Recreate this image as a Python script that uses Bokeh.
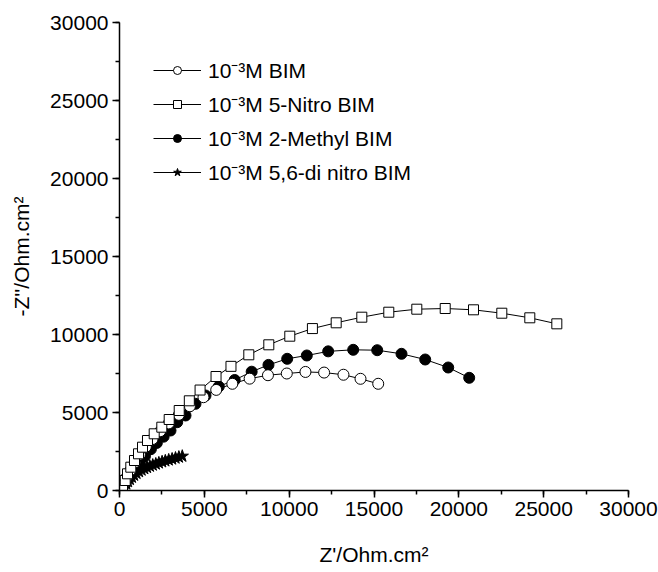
from bokeh.plotting import figure
from bokeh.models import Range1d, SingleIntervalTicker, Legend, LegendItem
from bokeh.embed import file_html
from bokeh.resources import INLINE

# ---- data ----
bim_x = [130, 250, 420, 650, 900, 1200, 1550, 1950, 2400, 2900, 3500, 4150, 4950,
         5700, 6650, 7670, 8750, 9860, 10960, 12060, 13200, 14205, 15248]
bim_y = [150, 450, 850, 1300, 1800, 2300, 2800, 3300, 3800, 4300, 4850, 5400, 5980,
         6450, 6840, 7170, 7390, 7500, 7600, 7560, 7420, 7160, 6840]

nitro_x = [177, 336, 472, 666, 884, 1120, 1356, 1650, 2045, 2493, 2929, 3519, 4115,
           4750, 5690, 6570, 7621, 8800, 10037, 11370, 12772, 14281, 15872, 17523,
           19197, 20865, 22533, 24183, 25775]
nitro_y = [320, 641, 1070, 1494, 1923, 2352, 2776, 3205, 3634, 4058, 4551, 5128, 5750,
           6440, 7307, 7958, 8698, 9339, 9891, 10380, 10750, 11109, 11429, 11622,
           11666, 11583, 11365, 11070, 10685]

methyl_x = [150, 350, 600, 900, 1200, 1500, 1850, 2200, 2600, 3006, 3400, 3890, 4479,
            5069, 5853, 6790, 7790, 8780, 9884, 11040, 12300, 13774, 15189, 16621,
            18018, 19374, 20611]
methyl_y = [150, 450, 850, 1300, 1750, 2200, 2650, 3050, 3450, 3846, 4378, 4808, 5558,
            6090, 6666, 7085, 7615, 8050, 8442, 8654, 8920, 9019, 8993, 8763,
            8397, 7884, 7224]

dinitro_x = [300, 400, 500, 610, 730, 860, 1000, 1150, 1300, 1460, 1620, 1790, 1960,
             2140, 2320, 2510, 2700, 2900, 3100, 3300, 3500, 3700]
dinitro_y = [250, 420, 570, 710, 850, 980, 1100, 1210, 1310, 1400, 1480, 1560, 1630,
             1700, 1770, 1840, 1900, 1960, 2020, 2080, 2140, 2200]

labels = ["10\u207b\u00b3M BIM", "10\u207b\u00b3M 5-Nitro BIM",
          "10\u207b\u00b3M 2-Methyl BIM", "10\u207b\u00b3M 5,6-di nitro BIM"]

x_label = "Z'/Ohm.cm\u00b2"
y_label = "-Z''/Ohm.cm\u00b2"

FONT = "Liberation Sans"
FS = "21px"

p = figure(width=658, height=572, output_backend="svg", toolbar_location=None,
           x_range=Range1d(0, 30000), y_range=Range1d(0, 30000),
           min_border_left=119, min_border_right=30, min_border_top=22,
           min_border_bottom=82)
p.outline_line_color = None
p.xgrid.visible = False
p.ygrid.visible = False
p.background_fill_color = "white"
p.border_fill_color = "white"

for ax, lab in ((p.xaxis[0], x_label), (p.yaxis[0], y_label)):
    ax.ticker = SingleIntervalTicker(interval=5000, num_minor_ticks=2)
    ax.axis_label = lab
    ax.axis_label_text_font = FONT
    ax.axis_label_text_font_size = FS
    ax.axis_label_text_font_style = "normal"
    ax.axis_label_text_color = "black"
    ax.major_label_text_font = FONT
    ax.major_label_text_font_size = FS
    ax.major_label_text_color = "black"
    ax.axis_line_color = "black"
    ax.axis_line_width = 1.5
    ax.major_tick_line_color = "black"
    ax.major_tick_line_width = 1.5
    ax.minor_tick_line_color = "black"
    ax.minor_tick_line_width = 1.5
    ax.major_tick_out = 7
    ax.major_tick_in = 0
    ax.minor_tick_out = 4
    ax.minor_tick_in = 0
    ax.major_label_standoff = 4

p.xaxis[0].axis_label_standoff = 24
p.yaxis[0].axis_label_standoff = 14

# lines
l_bim = p.line(bim_x, bim_y, line_color="black", line_width=1)
l_nit = p.line(nitro_x, nitro_y, line_color="black", line_width=1)
l_met = p.line(methyl_x, methyl_y, line_color="black", line_width=1)
l_din = p.line(dinitro_x, dinitro_y, line_color="black", line_width=1)

# markers (draw order: stars, filled, open, squares)
m_din = p.scatter(dinitro_x, dinitro_y, marker="star", size=13,
                  fill_color="black", line_color="black", line_width=1)
m_met = p.scatter(methyl_x, methyl_y, marker="circle", size=11,
                  fill_color="black", line_color="black", line_width=1)
m_bim = p.scatter(bim_x, bim_y, marker="circle", size=11,
                  fill_color="white", line_color="black", line_width=1)
m_nit = p.scatter(nitro_x, nitro_y, marker="square", size=10,
                  fill_color="white", line_color="black", line_width=1)

legend = Legend(items=[
    LegendItem(label=labels[0], renderers=[l_bim, m_bim]),
    LegendItem(label=labels[1], renderers=[l_nit, m_nit]),
    LegendItem(label=labels[2], renderers=[l_met, m_met]),
    LegendItem(label=labels[3], renderers=[l_din, m_din]),
], location="top_left")
legend.margin = 34
legend.padding = 0
legend.border_line_color = None
legend.background_fill_alpha = 0
legend.glyph_width = 48
legend.glyph_height = 20
legend.label_height = 20
legend.label_standoff = 7
legend.spacing = 6
legend.label_text_font = FONT
legend.label_text_font_size = FS
legend.label_text_color = "black"
p.add_layout(legend)

open("out.html", "w").write(file_html(p, INLINE))
